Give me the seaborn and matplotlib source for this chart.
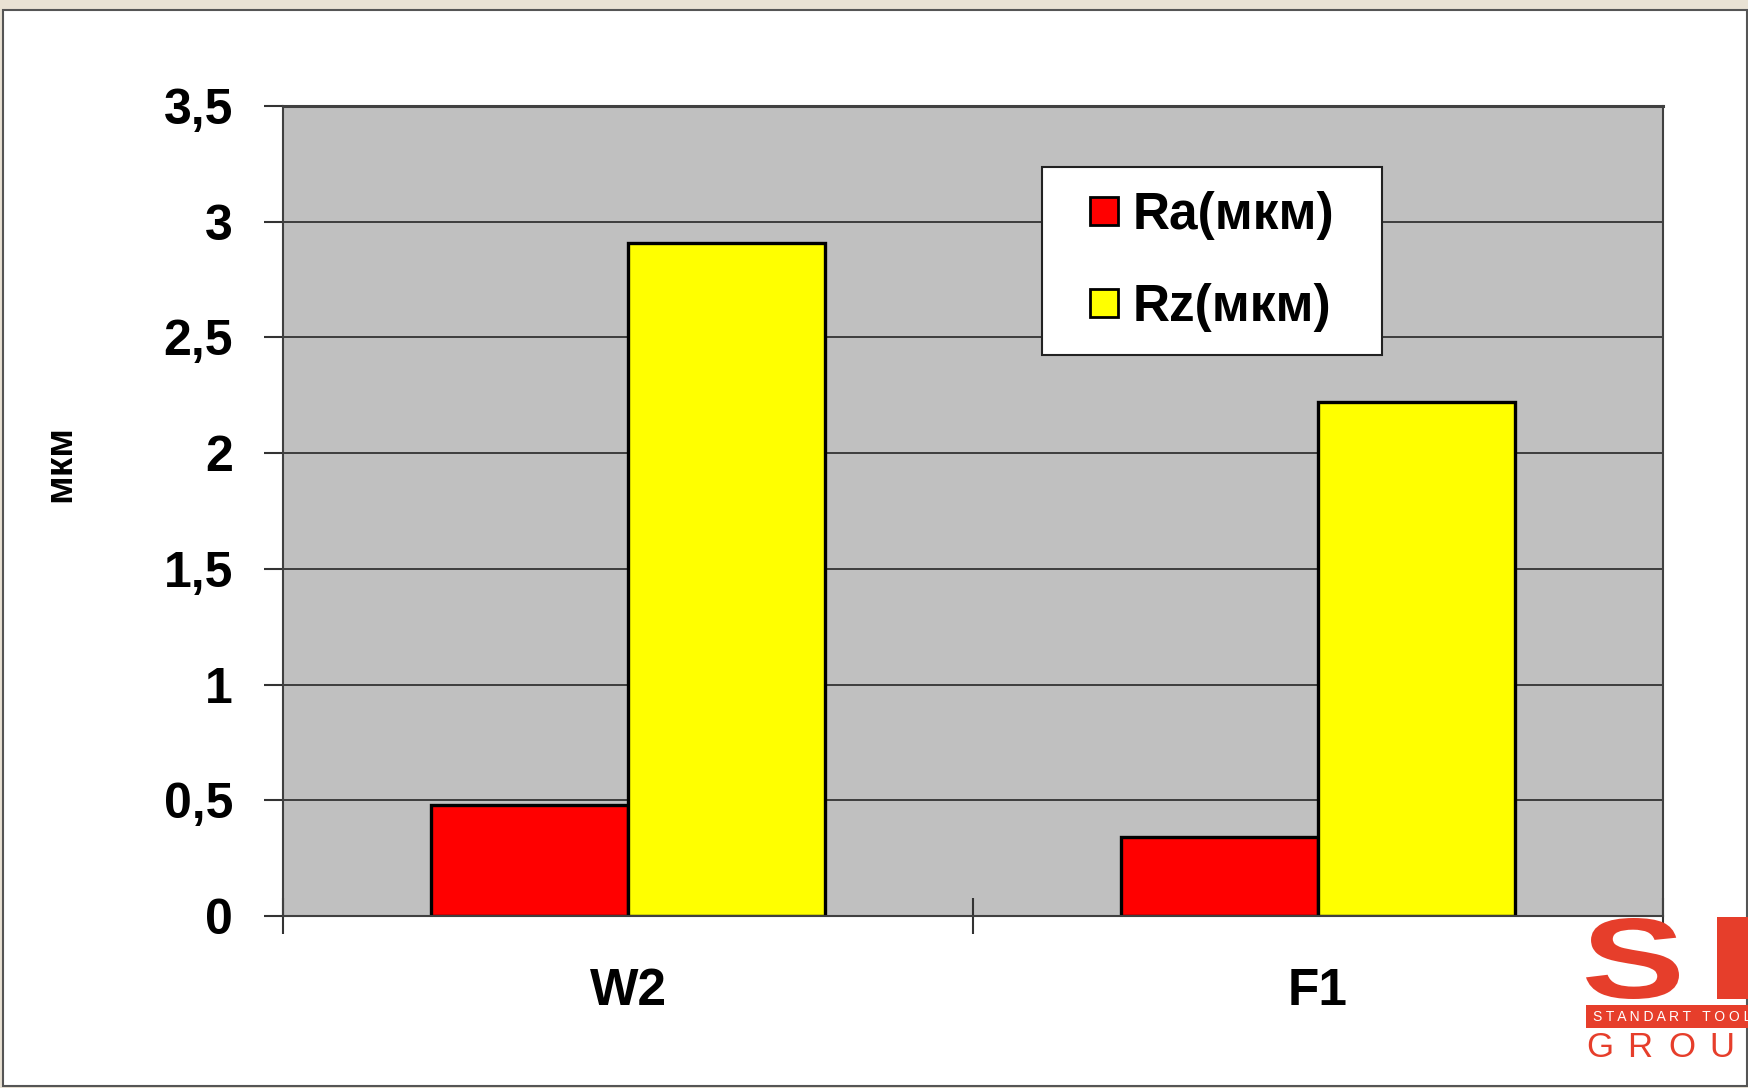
import pandas as pd
import numpy as np
import matplotlib
matplotlib.use('Agg')
import matplotlib.pyplot as plt
import seaborn as sns
from matplotlib.patches import Rectangle, PathPatch
from matplotlib.lines import Line2D
from matplotlib.textpath import TextPath
from matplotlib.font_manager import FontProperties
from matplotlib.transforms import Affine2D

# values
samples = ['W2', 'F1']
series = ['Ra(мкм)', 'Rz(мкм)']
ra_values = [0.48, 0.34]
rz_values = [2.91, 2.22]
y_ticks = [0, 0.5, 1, 1.5, 2, 2.5, 3, 3.5]
y_tick_labels = ['0', '0,5', '1', '1,5', '2', '2,5', '3', '3,5']
bar_colors = ['#ff0000', '#ffff00']

df = pd.DataFrame({
    'sample': samples * 2,
    'series': [series[0]] * len(samples) + [series[1]] * len(samples),
    'value': ra_values + rz_values,
})

sns.set_theme(style='white')
plt.rcParams['font.family'] = ['Liberation Sans', 'DejaVu Sans']

W, H = 1748, 1088
fig = plt.figure(figsize=(W / 100, H / 100), dpi=100)
fig.patch.set_facecolor('#e9e2d4')

# white slide panel
fig.patches.append(Rectangle((3 / W, 2 / H), (W - 4) / W, (H - 12) / H, transform=fig.transFigure,
                             facecolor='white', edgecolor='#555555', lw=1.5, zorder=-5))

ax = fig.add_axes([283 / W, 1 - 916 / H, 1380 / W, 810 / H])
ax.set_zorder(1)
sns.barplot(data=df, x='sample', y='value', hue='series', palette=bar_colors, width=0.572,
            edgecolor='black', linewidth=2.4, saturation=1, legend=False, ax=ax)

ax.set_facecolor('#c0c0c0')
ax.set_xlim(-0.5, 1.5)
ax.set_ylim(0, 3.5)
ax.set_yticks(y_ticks, y_tick_labels)
ax.yaxis.grid(True, color='#333333', lw=1.3)
ax.set_axisbelow(True)

ax.set_xticks([-0.5, 0.5, 1.5], ['', '', ''])
ax.set_xticks([0, 1], samples, minor=True)
ax.tick_params(axis='x', which='major', bottom=True, direction='inout', length=26, width=1.5, color='#333333')
ax.tick_params(axis='x', which='minor', bottom=True, length=0, pad=37, labelsize=37)
ax.tick_params(axis='y', left=True, direction='out', length=14, width=1.5, color='#333333', pad=22, labelsize=36)
for lab in ax.get_xticklabels(minor=True) + ax.get_yticklabels():
    lab.set_fontweight('bold')
    lab.set_color('black')

for sp in ax.spines.values():
    sp.set_color('#404040')
    sp.set_linewidth(1.5)
ax.spines['top'].set_linewidth(2.2)

ax.set_xlabel('')
ax.set_ylabel('мкм', fontsize=28, fontweight='bold', color='black', va='center')
ax.yaxis.set_label_coords(-0.1616, 0.559)

handles = [Line2D([], [], ls='none', marker='s', markersize=20, markerfacecolor=c,
                  markeredgecolor='black', markeredgewidth=2) for c in bar_colors]
leg = ax.legend(handles, series, loc='upper left', bbox_to_anchor=(0.550, 0.6975, 0.2464, 0.2272),
                mode='expand', borderaxespad=0, prop={'size': 37, 'weight': 'bold'}, labelcolor='black',
                frameon=True, fancybox=False, framealpha=1, facecolor='white', edgecolor='#222222',
                borderpad=0.46, labelspacing=0.84, handlelength=1.5, handletextpad=-0.2)
leg.get_frame().set_linewidth(1.5)

# company logo, bottom right (cut by the slide edge)
logo_red = '#e63e2b'
s_path = TextPath((0, 0), 'S', size=100, prop=FontProperties(family='Liberation Sans', weight='bold'))
ext = s_path.get_extents()
# fit the S into its box (pixels, origin bottom-left)
s_tr = (Affine2D().translate(-ext.x0, -ext.y0)
        .scale(93 / ext.width, 81 / ext.height)
        .translate(1586, H - 999))
fig.patches.append(PathPatch(s_path, transform=s_tr, facecolor=logo_red, edgecolor='none', zorder=5))
fig.patches.append(Rectangle((1717 / W, 1 - 999 / H), (W - 1717) / W, 82 / H, transform=fig.transFigure,
                             facecolor=logo_red, edgecolor='none', zorder=5))
fig.patches.append(Rectangle((1586 / W, 1 - 1028 / H), (W - 1586) / W, 23 / H, transform=fig.transFigure,
                             facecolor=logo_red, edgecolor='none', zorder=5))
fig.text(1593 / W, 1 - 1017 / H, 'S T A N D A R T   T O O L', fontsize=10, color='white',
         ha='left', va='center', zorder=6)
for i, ch in enumerate('GROUP'):
    fig.text((1586 + i * 41) / W, 1 - 1057 / H, ch, fontsize=25, color=logo_red,
             ha='left', va='baseline', zorder=5)

fig.savefig('out.png', dpi=100, facecolor=fig.get_facecolor())
